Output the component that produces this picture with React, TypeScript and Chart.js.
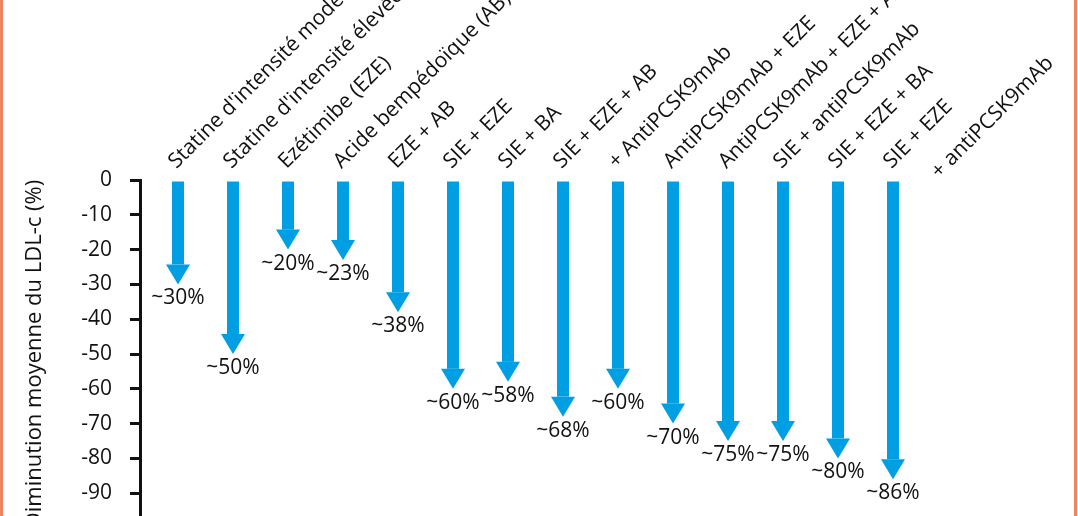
import React, { useEffect, useRef } from "react";
import { Chart, registerables } from "chart.js";

Chart.register(...registerables);

// ---- Data ----
const categories: (string | string[])[] = [
  "Statine d'intensité modérée",
  "Statine d'intensité élevée",
  "Ezétimibe (EZE)",
  "Acide bempédoïque (AB)",
  "EZE + AB",
  "SIE + EZE",
  "SIE + BA",
  "SIE + EZE + AB",
  "+ AntiPCSK9mAb",
  "AntiPCSK9mAb + EZE",
  "AntiPCSK9mAb + EZE + AB",
  "SIE + antiPCSK9mAb",
  "SIE + EZE + BA",
  ["SIE + EZE", "+ antiPCSK9mAb"],
];
const values = [-30, -50, -20, -23, -38, -60, -58, -68, -60, -70, -75, -75, -80, -86];
const valueLabels = ["~30%", "~50%", "~20%", "~23%", "~38%", "~60%", "~58%", "~68%", "~60%", "~70%", "~75%", "~75%", "~80%", "~86%"];
const yTickValues = [0, -10, -20, -30, -40, -50, -60, -70, -80, -90, -100];
const yTitle = "Diminution moyenne du LDL-c (%)";

// ---- Styles ----
const FONT = '"Open Sans", "Noto Sans", sans-serif';
const TEXT = "#111111";
const ARROW = "#009FE3";
const FRAME = "#EF8462";

const firstLine = (c: string | string[]) => (Array.isArray(c) ? c[0] : c);

const arrowPlugin = {
  id: "arrows",
  afterDatasetsDraw(chart: any) {
    const meta = chart.getDatasetMeta(0);
    const ctx = chart.ctx;
    const headH = 20;
    const headW = 24;
    const shaftW = 12;
    ctx.save();
    meta.data.forEach((el: any, i: number) => {
      const { x, y, base } = el.getProps(["x", "y", "base"], true);
      ctx.fillStyle = ARROW;
      ctx.fillRect(x - shaftW / 2, base, shaftW, y - headH - base);
      ctx.beginPath();
      ctx.moveTo(x - headW / 2, y - headH);
      ctx.lineTo(x + headW / 2, y - headH);
      ctx.lineTo(x, y);
      ctx.closePath();
      ctx.fill();
      ctx.fillStyle = TEXT;
      ctx.font = `21px ${FONT}`;
      ctx.textAlign = "center";
      ctx.textBaseline = "middle";
      ctx.fillText(valueLabels[i], x, y + 14);
    });
    ctx.restore();
  },
};

export default function App() {
  const ref = useRef<HTMLCanvasElement | null>(null);

  useEffect(() => {
    if (!ref.current) return;
    const xMin = 1 - 38 / 55;
    const xMax = 14 + 185 / 55;
    const twoLine = categories
      .map((c, i) => (Array.isArray(c) ? i : -1))
      .filter((i) => i >= 0);

    const chart = new Chart(ref.current, {
      type: "bar",
      data: {
        datasets: [
          {
            data: values.map((v, i) => ({ x: i + 1, y: v })),
            backgroundColor: "rgba(0,0,0,0)",
            barThickness: 12,
          } as any,
        ],
      },
      options: {
        responsive: false,
        animation: false,
        devicePixelRatio: 1,
        layout: { padding: { left: 0, right: 0, top: 0, bottom: 12 } },
        plugins: { legend: { display: false }, tooltip: { enabled: false } },
        scales: {
          x: {
            type: "linear",
            position: "top",
            offset: false,
            min: xMin,
            max: xMax,
            weight: 1,
            grid: { display: false, drawTicks: false, offset: false },
            border: { display: false },
            ticks: {
              autoSkip: false,
              minRotation: 45,
              maxRotation: 45,
              padding: 6,
              labelOffset: 12,
              color: TEXT,
              font: { family: FONT, size: 21 },
              callback: (_v: any, i: number) => firstLine(categories[i]),
            },
            afterBuildTicks: (s: any) => {
              s.ticks = categories.map((_, i) => ({ value: i + 1 }));
            },
            afterFit: (s: any) => {
              s.height = 180;
              s.paddingLeft = 0;
              s.paddingRight = 0;
            },
          },
          x2: {
            type: "linear",
            position: "top",
            offset: false,
            min: xMin,
            max: xMax,
            weight: 0,
            grid: { display: false, drawTicks: false, offset: false },
            border: { display: false },
            ticks: {
              autoSkip: false,
              mirror: true,
              minRotation: 45,
              maxRotation: 45,
              padding: -14,
              labelOffset: 42,
              color: TEXT,
              font: { family: FONT, size: 21 },
              callback: (_v: any, i: number) => {
                const c = categories[twoLine[i]];
                return Array.isArray(c) ? c[1] : "";
              },
            },
            afterBuildTicks: (s: any) => {
              s.ticks = twoLine.map((i) => ({ value: i + 1 }));
            },
            afterFit: (s: any) => {
              s.height = 0;
              s.paddingLeft = 0;
              s.paddingRight = 0;
            },
          },
          y: {
            type: "linear",
            position: "left",
            min: -100,
            max: 0,
            grid: {
              display: true,
              drawOnChartArea: false,
              drawTicks: true,
              tickLength: 10,
              color: TEXT,
              lineWidth: 3,
            },
            border: { display: true, color: TEXT, width: 3 },
            ticks: {
              padding: 18,
              color: TEXT,
              font: { family: FONT, size: 21 },
              callback: (v: any) => String(v),
            },
            afterBuildTicks: (s: any) => {
              s.ticks = yTickValues.map((v) => ({ value: v }));
            },
            title: {
              display: true,
              text: yTitle,
              color: TEXT,
              font: { family: FONT, size: 22 },
              padding: { top: 22, bottom: 0 },
            },
            afterFit: (s: any) => {
              s.width = 140;
              s.paddingTop = 0;
              s.paddingBottom = 0;
            },
          },
        },
      } as any,
      plugins: [arrowPlugin],
    });
    return () => chart.destroy();
  }, []);

  return (
    <div
      style={{
        position: "fixed",
        left: 0,
        top: 0,
        width: 1078,
        height: 516,
        overflow: "hidden",
        background: "#ffffff",
      }}
    >
      <canvas ref={ref} width={1078} height={540} style={{ display: "block" }} />
      <div style={{ position: "absolute", left: 0, top: 0, width: 3, height: 516, background: FRAME }} />
      <div style={{ position: "absolute", left: 1074, top: 0, width: 3, height: 516, background: FRAME }} />
    </div>
  );
}
